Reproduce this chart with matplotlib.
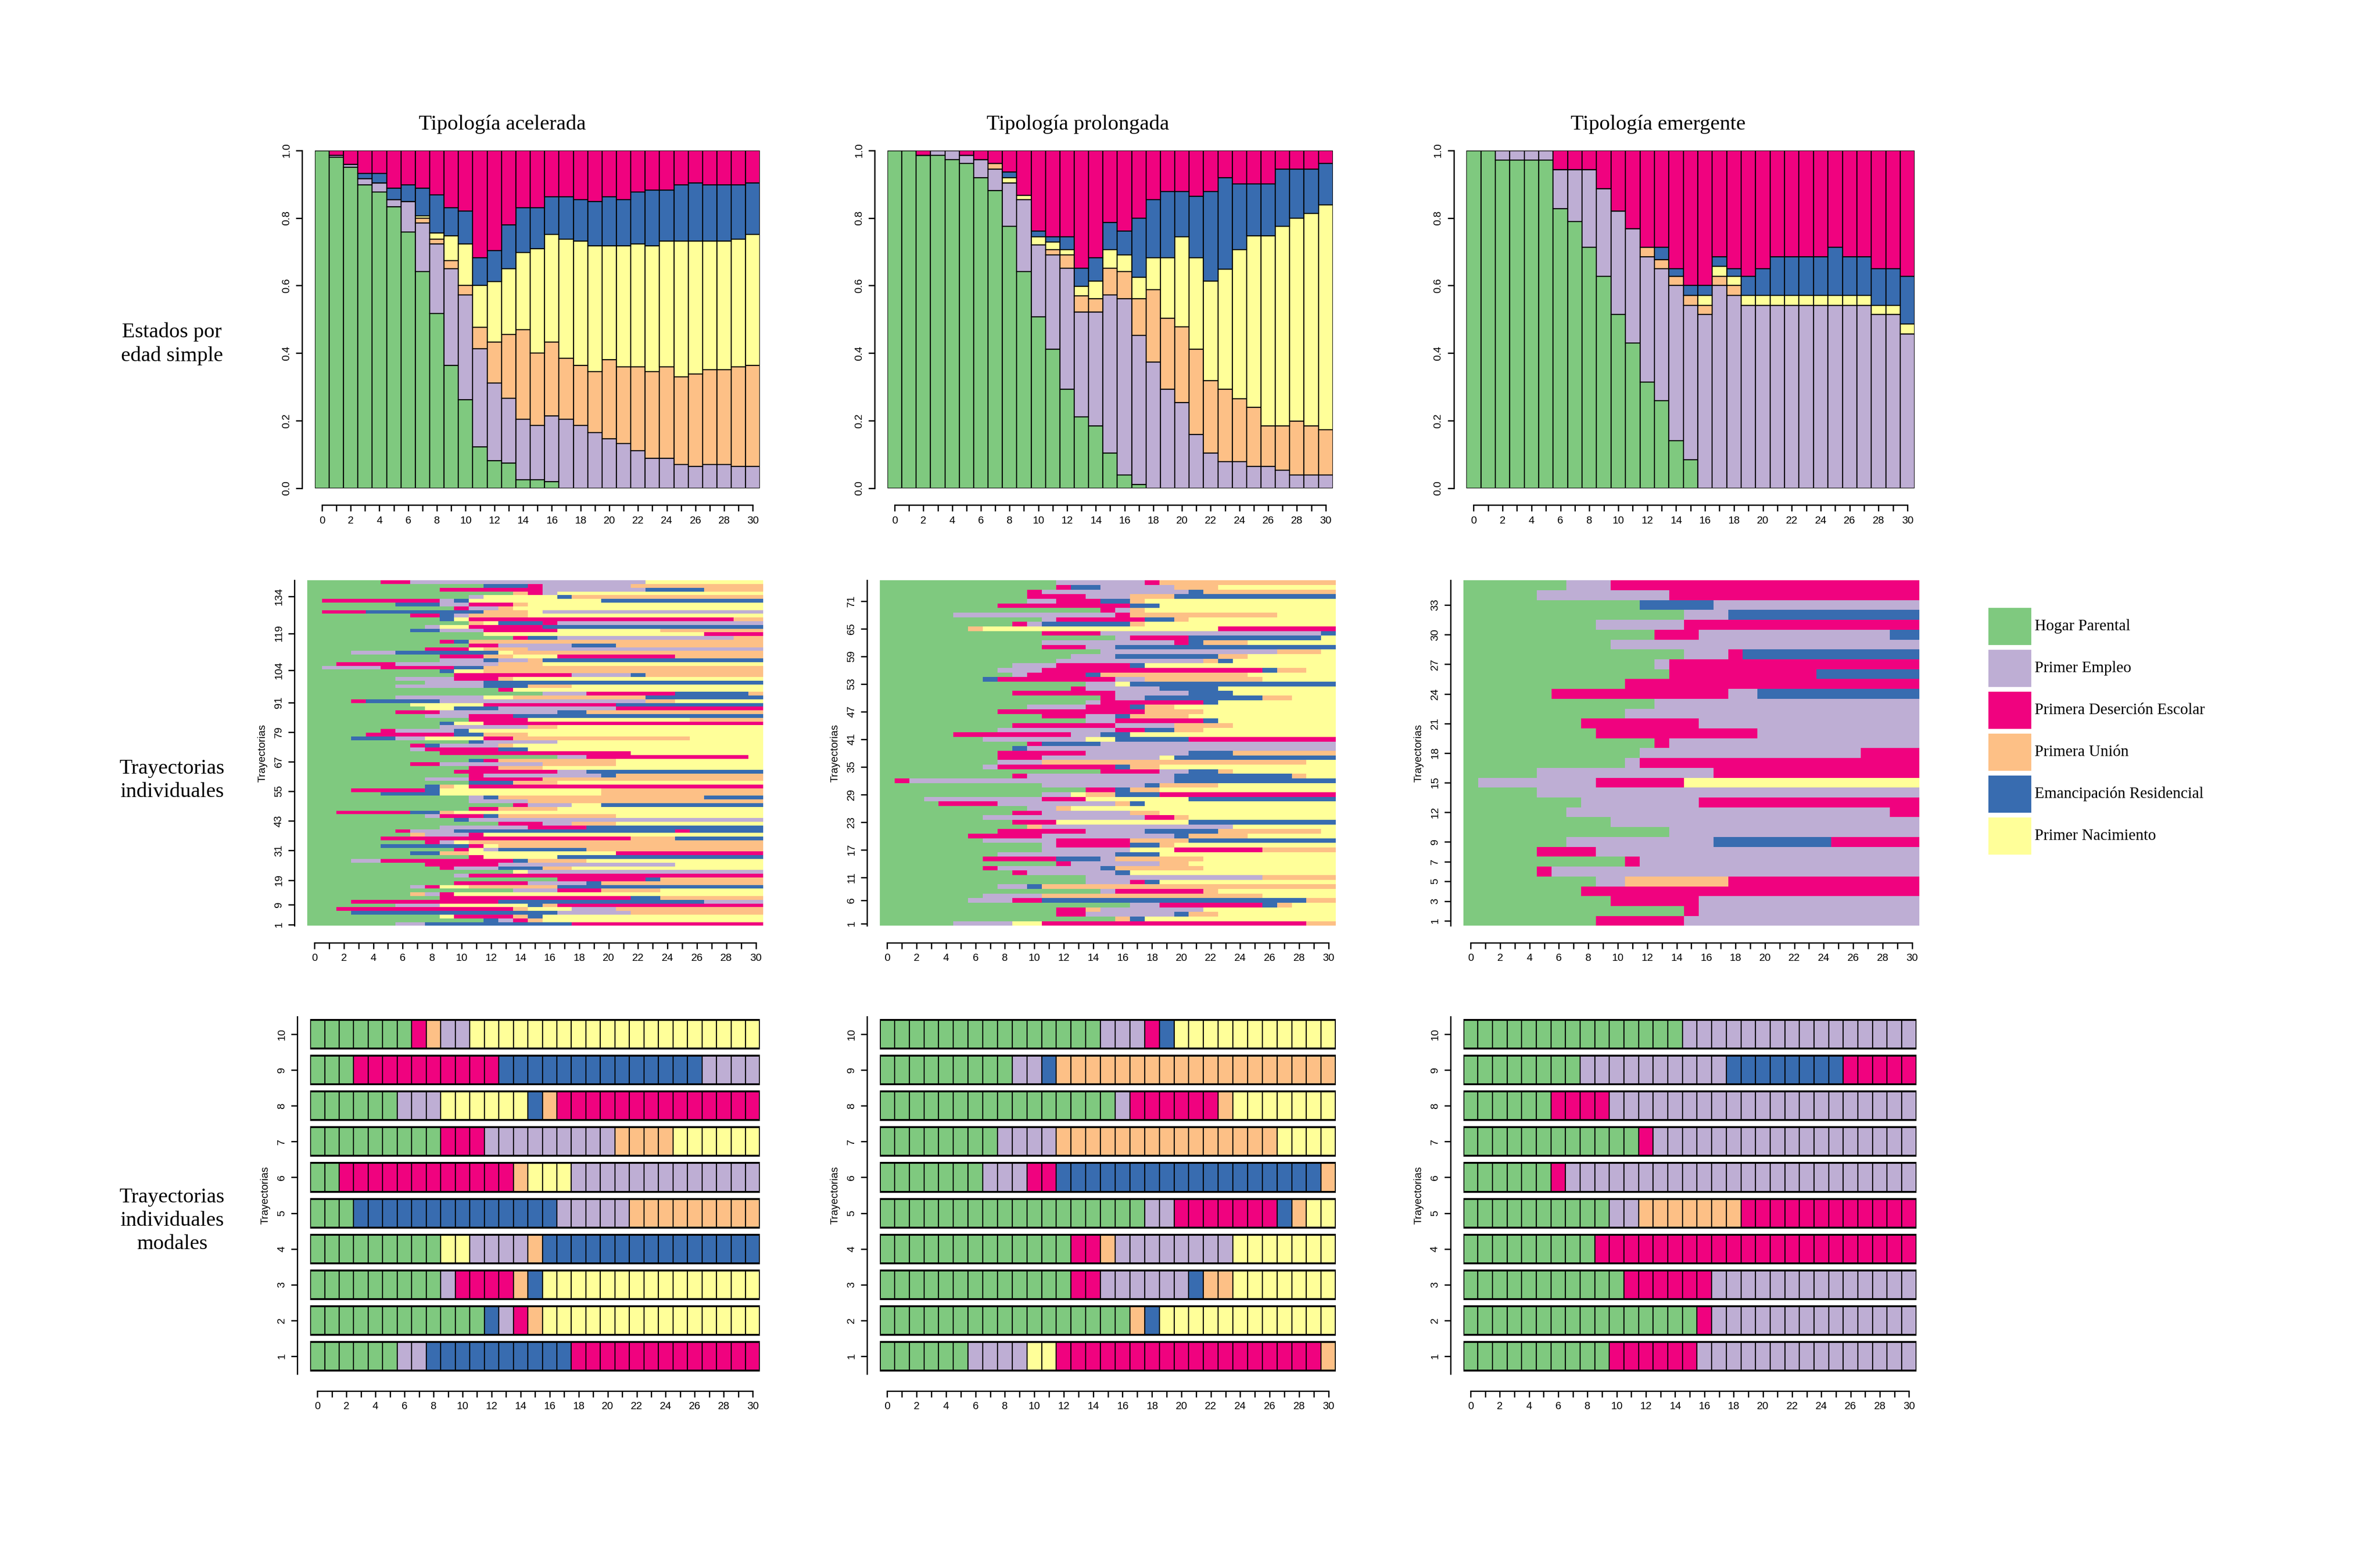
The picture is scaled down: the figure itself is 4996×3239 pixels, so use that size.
import matplotlib
matplotlib.use("Agg")
import matplotlib.pyplot as plt
import numpy as np

# state colours (Accent palette used by TraMineR)
COLORS = {"G": "#7FC97F", "E": "#BEAED4", "D": "#F0027F",
          "U": "#FDC086", "R": "#386CB0", "N": "#FFFF99"}
LEGEND = [("G", "Hogar Parental"), ("E", "Primer Empleo"),
          ("D", "Primera Deserción Escolar"), ("U", "Primera Unión"),
          ("R", "Emancipación Residencial"), ("N", "Primer Nacimiento")]
TITLES = ["Tipología acelerada", "Tipología prolongada", "Tipología emergente"]
AGES = list(range(31))

# ---- state distributions: cumulative tops (green, +lavender, +orange, +yellow, +blue); pink fills to 1
acel_green = [1, .98, .951, .898, .877, .834, .758, .641, .518, .364, .262, .123, .082, .074, .025, .025,
              .02, 0, 0, 0, 0, 0, 0, 0, 0, 0, 0, 0, 0, 0, 0]
acel_lav = [1, .985, .959, .917, .904, .855, .849, .786, .723, .65, .573, .413, .311, .267, .205, .186,
            .214, .205, .186, .165, .146, .132, .111, .089, .089, .07, .064, .07, .07, .064, .064]
acel_uni = [1, .985, .959, .917, .904, .855, .849, .8, .738, .674, .601, .476, .433, .455, .47, .4,
            .433, .385, .364, .345, .38, .359, .359, .345, .359, .33, .339, .351, .351, .359, .364]
acel_nac = [1, .985, .959, .917, .904, .855, .849, .807, .756, .747, .723, .601, .612, .65, .698, .709,
            .751, .738, .732, .718, .718, .718, .724, .718, .732, .732, .732, .732, .732, .738, .751]
acel_ema = [1, .985, .959, .932, .932, .889, .898, .889, .868, .83, .82, .683, .703, .78, .83, .83,
            .863, .863, .855, .849, .863, .855, .877, .883, .883, .898, .904, .898, .898, .898, .904]

prol_green = [1, 1, .986, .986, .973, .961, .92, .881, .775, .641, .507, .412, .293, .212, .185, .104,
              .039, .011, 0, 0, 0, 0, 0, 0, 0, 0, 0, 0, 0, 0, 0]
prol_lav = [1, 1, .986, 1, 1, .986, .973, .945, .904, .854, .72, .691, .652, .522, .522, .572,
            .561, .453, .373, .293, .254, .159, .104, .079, .079, .064, .064, .053, .039, .039, .039]
prol_uni = [1, 1, .986, 1, 1, .986, .973, .961, .904, .854, .72, .707, .691, .569, .561, .652,
            .641, .561, .588, .504, .478, .412, .319, .293, .265, .24, .185, .185, .199, .185, .174]
prol_nac = [1, 1, .986, 1, 1, .986, .973, .961, .92, .867, .744, .729, .707, .598, .613, .707,
            .691, .625, .682, .682, .744, .682, .613, .649, .707, .747, .747, .775, .8, .814, .839]
prol_ema = [1, 1, .986, 1, 1, .986, .973, .961, .936, .867, .761, .744, .744, .652, .682, .787,
            .761, .8, .854, .878, .878, .864, .878, .92, .901, .901, .901, .945, .945, .945, .961]

emer_green = [1, 1, .972, .972, .972, .972, .828, .79, .713, .628, .514, .43, .314, .259, .141, .084,
              0, 0, 0, 0, 0, 0, 0, 0, 0, 0, 0, 0, 0, 0, 0]
emer_lav = [1, 1, 1, 1, 1, 1, .943, .943, .943, .887, .82, .769, .685, .65, .6, .542,
            .514, .6, .571, .542, .542, .542, .542, .542, .542, .542, .542, .542, .514, .514, .457]
emer_uni = [1, 1, 1, 1, 1, 1, .943, .943, .943, .887, .82, .769, .713, .677, .628, .571,
            .542, .628, .6, .542, .542, .542, .542, .542, .542, .542, .542, .542, .514, .514, .457]
emer_nac = [1, 1, 1, 1, 1, 1, .943, .943, .943, .887, .82, .769, .713, .677, .628, .571,
            .571, .657, .628, .571, .571, .571, .571, .571, .571, .571, .571, .571, .542, .542, .486]
emer_ema = [1, 1, 1, 1, 1, 1, .943, .943, .943, .887, .82, .769, .713, .713, .65, .6,
            .6, .685, .65, .628, .65, .685, .685, .685, .685, .713, .685, .685, .65, .65, .628]

# ---- individual trajectories (run-length encoded, listed top row first)
acel_rows = [
    "G5 D2 E16 N8", "G12 R3 D1 E6 U9", "G9 D7 E7 R4 U4", "G14 U1 D1 E1 N14", "G11 E1 N5 R1 U13",
    "G1 D8 E1 R1 N9 R11", "G6 R3 E2 D3 U1 N16", "G10 D1 E2 U1 N17", "G1 D3 R8 U3 N1 E15",
    "G7 D2 R1 E1 U4 N16", "G9 R1 N1 D18 U2", "G11 U1 N1 R3 D1 E14", "G8 E1 N2 D5 R15",
    "G7 R2 E3 D5 N7 U7", "G12 N15 D4", "G14 D1 R2 E12 U2", "G9 D1 R1 U20", "G11 D2 E5 R3 U10",
    "G8 D3 N1 U3 E16", "G3 E3 R7 N1 U17", "G9 D3 U2 N3 D8 U6", "G9 E3 R1 E2 U1 R15",
    "G2 D4 E7 U3 N15", "G1 E4 D5 R2 U19", "G9 R1 N2 U19", "G10 D8 E4 R1 U8", "G6 E4 D3 U1 N17",
    "G8 E4 R19", "G6 E6 R3 U3 N13", "G13 D1 N17", "G16 E3 D6 R5 U1", "G6 E6 N2 U9 R8",
    "G3 D1 R5 E14 U2 N6", "G7 N5 D9 R10", "G8 N2 R3 E8 D10", "G6 D3 E8 R2 U12", "G8 E3 D3 R17",
    "G11 D4 N11 U5", "G9 R1 N2 D19", "G9 E6 U2 N14", "G5 D1 E4 R1 N20", "G4 D6 R2 U3 N16",
    "G3 R3 E2 N4 D2 U12 N5", "G11 R1 E5 N14", "G7 D1 R1 E4 U1 N17", "G7 E1 D5 R2 N16",
    "G9 D13 N9", "G17 E2 D11 N1", "G11 R1 D1 U8 N10", "G7 D2 E7 U5 N10", "G11 D2 U3 N15",
    "G10 D7 E2 R12", "G11 D1 E8 R1 U10", "G8 E3 D5 U15", "G11 R3 U3 N14", "G8 R1 U1 N1 D20",
    "G3 D5 R1 N11 U11", "G5 R4 N11 U11", "G11 E1 R1 U14 R4", "G11 E4 U16", "G14 D1 E3 N2 R11",
    "G11 D2 U4 N14", "G2 D5 R2 U1 N21", "G8 E1 D3 R1 U8 N10", "G10 R1 E20", "G13 D3 E2 U3 N10",
    "G9 E6 D4 R12", "G6 D1 E3 R15 D1 R5", "G7 U1 E3 D1 N19", "G5 D17 U3 R6", "G8 D1 E1 N1 U20",
    "G5 R6 D1 N1 U18", "G10 D1 N1 E1 R6 U12", "G7 R2 U2 N10 D10", "G11 D1 N5 R14",
    "G3 E2 D9 R1 U4 N12", "G8 D5 E12 N6", "G9 D1 E3 R3 U2 N13", "G14 N1 E16", "G10 E1 D20",
    "G17 D6 R1 U7", "G10 D5 E4 R1 U11", "G7 E1 D1 N2 U6 R14", "G14 E3 D3 U4 N7", "G7 U1 E1 D1 N21",
    "G9 D13 R2 U7", "G3 D10 R14 E4", "G6 E3 N6 R1 U1 D14", "G2 D12 U1 N3 E3 U10", "G3 R14 E5 U9",
    "G9 N1 D4 U1 R1 N15", "G12 R1 E1 D1 U1 N15", "G6 E2 R10 D13",
]
prol_rows = [
    "G12 E6 D1 U12", "G12 D1 R2 E5 U3 N8", "G10 D1 E10 R1 U9", "G10 D4 E3 U3 R11",
    "G10 E2 D3 R2 U1 N13", "G8 D9 R2 N12", "G15 D1 E1 U1 N13", "G5 E11 D1 U10 N4",
    "G11 E1 D6 R2 U1 N10", "G9 D1 E1 R6 U1 N13", "G6 U1 N16 D8", "G11 D4 E15 R1",
    "G16 E1 D4 R9 N1", "G11 E9 D1 R1 U3 N6", "G11 D3 E2 R15", "G15 E12 U3 N1",
    "G13 E3 R7 U2 N6", "G12 E10 U1 R1 N7", "G9 E3 D5 R1 N13", "G8 E3 D15 R1 U2 N2",
    "G9 E1 D4 R1 U10 N6", "G7 R1 D8 E2 U8 N5", "G14 E2 N1 R14", "G13 D1 E5 R4 N8",
    "G9 D7 E5 R3 N7", "G15 D1 E2 R8 U2 N3", "G14 E1 D7 R1 N8", "G10 E4 D3 R1 U2 N11",
    "G8 D10 U4 N9", "G11 D3 E2 R1 U4 N10", "G14 E2 D6 R1 N8", "G9 D7 E4 U4 N7",
    "G8 E8 D2 R2 U2 N9", "G5 D8 E2 R2 N14", "G7 E7 N2 R5 D10", "G10 D1 R4 E16", "G9 R1 E21",
    "G8 D6 E7 R3 U7", "G8 D3 E8 N1 R11", "G8 E3 U18 N2", "G7 E1 D8 R1 U2 N12",
    "G15 D4 E2 R2 U1 N7", "G9 D1 E10 R8 U1 N2", "G1 D1 E18 R11", "G11 E7 R1 U4 N8",
    "G14 D2 R1 U2 N12", "G11 E2 N1 U2 R3 D12", "G3 E8 D3 N7 R10", "G4 D4 E8 U1 R1 N13",
    "G10 E2 U1 N18", "G9 D2 E6 U2 N12", "G7 E11 D2 U1 N10", "G9 D3 N9 R10", "G10 U1 E13 N7",
    "G8 D6 E4 R5 U7 N1", "G6 D5 E9 R1 U4 N6", "G7 E5 D5 U4 R10", "G11 E1 D5 R2 U1 N11",
    "G11 E6 N3 D6 U5", "G8 E8 R3 N12", "G7 D5 R3 E1 U6 N9", "G12 D1 E6 U2 N10",
    "G7 D1 E7 R1 U6 N9", "G9 D1 E6 R1 N14", "G14 E12 U5", "G14 E3 D1 R1 N12", "G8 E2 R1 U20",
    "G15 E1 D6 U1 N8", "G7 E4 U15 N5", "G6 E3 D2 R18 U2", "G17 E2 D7 R1 U1 N3",
    "G12 D2 U1 E7 N9", "G12 D2 E6 R1 U2 N8", "G16 U1 R1 N13", "G5 E4 N2 D18 U2",
]
emer_rows = [
    "G7 E3 D21", "G5 E9 D17", "G12 R5 E14", "G15 E3 R13", "G9 E6 D16", "G13 D3 E13 R2",
    "G10 E21", "G15 E3 D1 R12", "G13 E1 D17", "G14 D10 R7", "G11 D20", "G6 D12 E2 R11",
    "G13 E18", "G11 E20", "G8 D8 E15", "G9 D11 E11", "G13 D1 E17", "G12 E15 D4", "G11 E1 D19",
    "G5 E12 D14", "G1 E8 D6 N16", "G5 E26", "G8 E8 D15", "G7 E22 D2", "G10 E21", "G14 E17",
    "G7 E10 R8 D6", "G5 D4 E22", "G11 D1 E19", "G5 D1 E25", "G9 E2 U7 D13", "G8 D23",
    "G10 D6 E15", "G15 D1 E15", "G9 D6 E16",
]
acel_ylabels = [1, 9, 19, 31, 43, 55, 67, 79, 91, 104, 119, 134]
prol_ylabels = [1, 6, 11, 17, 23, 29, 35, 41, 47, 53, 59, 65, 71]
emer_ylabels = [1, 3, 5, 7, 9, 12, 15, 18, 21, 24, 27, 30, 33]
acel_nseq, prol_nseq, emer_nseq = 140, 75, 35

# ---- modal trajectories (row 1 first)
acel_modal = ["G6 E2 R10 D13", "G12 R1 E1 D1 U1 N15", "G9 E1 D4 U1 R1 N15", "G9 N2 E4 U1 R15",
              "G3 R14 E5 U9", "G2 D12 U1 N3 E13", "G9 D3 E9 U4 N6", "G6 E3 N6 R1 U1 D14",
              "G3 D10 R14 E4", "G7 D1 U1 E2 N20"]
prol_modal = ["G6 E4 N2 D18 U1", "G17 U1 R1 N12", "G13 D2 E6 R1 U2 N7", "G13 D2 U1 E8 N7",
              "G18 E2 D7 R1 U1 N2", "G7 E3 D2 R18 U1", "G8 E4 U15 N4", "G16 E1 D6 U1 N7",
              "G9 E2 R1 U19", "G15 E3 D1 R1 N11"]
emer_modal = ["G10 D6 E15", "G16 D1 E14", "G11 D6 E14", "G9 D22", "G10 E2 U7 D12",
              "G6 D1 E24", "G12 D1 E18", "G6 D4 E21", "G8 E10 R8 D5", "G15 E16"]


def decode(code, n=31):
    seq = []
    for tok in code.split():
        seq += [tok[0]] * int(tok[1:])
    seq = seq[:n]
    seq += [seq[-1]] * (n - len(seq))
    return seq


def runs(seq):
    out, start = [], 0
    for i in range(1, len(seq) + 1):
        if i == len(seq) or seq[i] != seq[start]:
            out.append((start, i - start, seq[start]))
            start = i
    return out


def style_axes(ax, xmax=30):
    for s in ("top", "right"):
        ax.spines[s].set_visible(False)
    ax.spines["left"].set_position(("outward", 6))
    ax.spines["bottom"].set_position(("outward", 8))
    ax.spines["bottom"].set_bounds(0, xmax)
    ax.set_xticks(AGES)
    ax.set_xticklabels([str(a) if a % 2 == 0 else "" for a in AGES])
    ax.tick_params(labelsize=5, length=3, width=0.6, pad=2)
    ax.spines["left"].set_linewidth(0.6)
    ax.spines["bottom"].set_linewidth(0.6)
    for lab in ax.get_yticklabels():
        lab.set_rotation(90)
        lab.set_va("center")


fig = plt.figure(figsize=(4996 / 320, 3239 / 320), dpi=320)
serif = "Liberation Serif"
plt.rcParams["font.family"] = "Liberation Sans"

col_x = [(205, 495), (578, 868), (955, 1247)]
title_x = [327, 702, 1080]
W, H = 1550.0, 1005.0


def fig_rect(x0, x1, ytop, ybot):
    return [x0 / W, 1 - ybot / H, (x1 - x0) / W, (ybot - ytop) / H]


# ---- top row
dists = [(acel_green, acel_lav, acel_uni, acel_nac, acel_ema),
         (prol_green, prol_lav, prol_uni, prol_nac, prol_ema),
         (emer_green, emer_lav, emer_uni, emer_nac, emer_ema)]
stack_order = ["G", "E", "U", "N", "R", "D"]
for j, cum in enumerate(dists):
    ax = fig.add_axes(fig_rect(col_x[j][0], col_x[j][1], 98, 318))
    levels = [np.zeros(31)] + [np.array(c) for c in cum] + [np.ones(31)]
    for k, st in enumerate(stack_order):
        h = np.clip(levels[k + 1] - levels[k], 0, None)
        ax.bar(AGES, h, bottom=levels[k], width=1, color=COLORS[st], edgecolor="black", linewidth=0.5)
    ax.set_xlim(-0.5, 30.5)
    ax.set_ylim(0, 1)
    ax.set_yticks([0, .2, .4, .6, .8, 1.0])
    ax.set_yticklabels(["0.0", "0.2", "0.4", "0.6", "0.8", "1.0"])
    style_axes(ax)
    fig.text(title_x[j] / W, 1 - 81 / H, TITLES[j], ha="center", va="center",
             fontfamily=serif, fontsize=10)

# ---- middle row
mid = [(acel_rows, acel_nseq, acel_ylabels, (200, 497)),
       (prol_rows, prol_nseq, prol_ylabels, (573, 870)),
       (emer_rows, emer_nseq, emer_ylabels, (953, 1250))]
for rows, nseq, ylabs, (x0, x1) in mid:
    ax = fig.add_axes(fig_rect(x0, x1, 378, 603))
    h = nseq / len(rows)
    for i, code in enumerate(rows[::-1]):
        y = 0.5 + i * h
        for start, length, st in runs(decode(code)):
            ax.broken_barh([(start - 0.5, length)], (y, h), facecolors=COLORS[st], linewidth=0)
    ax.set_xlim(-0.5, 30.5)
    ax.set_ylim(0.5, nseq + 0.5)
    ax.set_yticks(ylabs)
    ax.set_yticklabels([str(v) for v in ylabs])
    style_axes(ax)
    ax.set_ylabel("Trayectorias", fontsize=5, labelpad=3)

# ---- bottom row
bot_cols = [(acel_modal, (202, 495)), (prol_modal, (573, 870)), (emer_modal, (953, 1248))]
for rows, (x0, x1) in bot_cols:
    ax = fig.add_axes(fig_rect(x0, x1, 662, 895))
    for i, code in enumerate(rows):
        seq = decode(code)
        ax.barh([i + 1] * 31, [1] * 31, left=np.array(AGES) - 0.5, height=0.8,
                color=[COLORS[s] for s in seq], edgecolor="black", linewidth=0.5)
        ax.barh(i + 1, 31, left=-0.5, height=0.8, fill=False, edgecolor="black", linewidth=0.9)
    ax.set_xlim(-0.5, 30.5)
    ax.set_ylim(0.5, 10.5)
    ax.set_yticks(range(1, 11))
    style_axes(ax)
    ax.set_ylabel("Trayectorias", fontsize=5, labelpad=3)

# ---- row labels
fig.text(112 / W, 1 - 224 / H, "Estados por\nedad simple", ha="center", va="center",
         fontfamily=serif, fontsize=10, linespacing=1.3)
fig.text(112 / W, 1 - 508 / H, "Trayectorias\nindividuales", ha="center", va="center",
         fontfamily=serif, fontsize=10, linespacing=1.3)
fig.text(112 / W, 1 - 795 / H, "Trayectorias\nindividuales\nmodales", ha="center", va="center",
         fontfamily=serif, fontsize=10, linespacing=1.3)

# ---- legend
for k, (st, label) in enumerate(LEGEND):
    yc = 408 + k * 27.3
    fig.patches.append(plt.Rectangle((1295 / W, 1 - (yc + 12) / H), 28 / W, 24 / H,
                                     transform=fig.transFigure, facecolor=COLORS[st],
                                     edgecolor="none"))
    fig.text(1325 / W, 1 - yc / H, label, ha="left", va="center", fontfamily=serif, fontsize=7.5)

fig.savefig("out.png", dpi=320)
